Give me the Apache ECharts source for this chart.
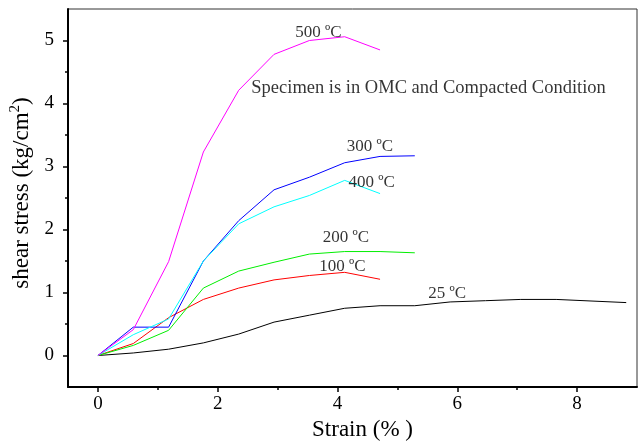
<!DOCTYPE html>
<html>
<head>
<meta charset="utf-8">
<script src="https://cdn.jsdelivr.net/npm/echarts@6/dist/echarts.min.js"></script>
<style>
  html, body { margin: 0; padding: 0; background: #fff; }
  #chart { width: 643px; height: 441px; }
</style>
</head>
<body>
<div id="chart"></div>
<script>
  // strain (%) readings
  var strain = [0, 0.59, 1.18, 1.76, 2.35, 2.94, 3.53, 4.12, 4.71, 5.29]
  var strain25 = [0, 0.59, 1.18, 1.76, 2.35, 2.94, 3.53, 4.12, 4.71, 5.29, 5.88, 6.47, 7.06, 7.65, 8.82]

  // shear stress (kg/cm2) per temperature
  var stress25 = [0, 0.04, 0.1, 0.2, 0.34, 0.53, 0.64, 0.75, 0.79, 0.79, 0.85, 0.87, 0.89, 0.89, 0.84]
  var stress100 = [0, 0.19, 0.6, 0.89, 1.07, 1.2, 1.27, 1.32, 1.21]
  var stress200 = [0, 0.16, 0.4, 1.07, 1.34, 1.48, 1.61, 1.65, 1.65, 1.63]
  var stress300 = [0, 0.45, 0.45, 1.5, 2.14, 2.63, 2.83, 3.06, 3.16, 3.17]
  var stress400 = [0, 0.33, 0.58, 1.5, 2.09, 2.36, 2.54, 2.78, 2.57]
  var stress500 = [0, 0.41, 1.49, 3.23, 4.21, 4.78, 5.0, 5.06, 4.85]

  var xMajor = [0, 2, 4, 6, 8]
  var xMinor = [1, 3, 5, 7]
  var yMajor = [0, 1, 2, 3, 4, 5]
  var yMinor = [0.5, 1.5, 2.5, 3.5, 4.5]

  // curve labels: [strain, stress, text]
  var curveLabels = [
    [3.68, 5.12, '500 ºC'],
    [4.54, 3.31, '300 ºC'],
    [4.57, 2.75, '400 ºC'],
    [4.14, 1.87, '200 ºC'],
    [4.08, 1.42, '100 ºC'],
    [5.83, 0.98, '25 ºC']
  ]
  var note = [[2.56, 4.25, 'Specimen is in OMC and Compacted Condition']]

  var serif = "'Liberation Serif', 'Times New Roman', serif"

  function pairs(xs, ys) {
    return ys.map(function (v, i) { return [xs[i], v] })
  }

  function curve(name, xs, ys, color) {
    return {
      name: name,
      type: 'line',
      data: pairs(xs, ys),
      symbol: 'none',
      lineStyle: { color: color, width: 1 },
      itemStyle: { color: color },
      z: 3
    }
  }

  var tickStyle = { color: '#000', width: 1.5 }

  var chart = echarts.init(document.getElementById('chart'))
  chart.setOption({
    animation: false,
    textStyle: { fontFamily: serif },
    grid: {
      left: 68, right: 6, top: 9, bottom: 54,
      outerBoundsMode: 'none',
      containLabel: false,
      show: true, borderColor: '#333', borderWidth: 1
    },
    xAxis: [{
      type: 'value', min: -0.5, max: 9,
      name: 'Strain (% )', nameLocation: 'middle', nameGap: 29,
      nameTextStyle: { fontSize: 23, color: '#000', fontFamily: serif, padding: [0, 0, 0, 20] },
      axisLine: { onZero: false, lineStyle: { color: '#000', width: 2 } },
      axisTick: { show: true, customValues: xMajor, length: 5, lineStyle: tickStyle },
      axisLabel: { customValues: xMajor, fontSize: 19, color: '#000', margin: 8, fontFamily: serif },
      splitLine: { show: false }
    }, {
      type: 'value', min: -0.5, max: 9, position: 'bottom',
      axisLine: { show: false, onZero: false },
      axisTick: { show: true, customValues: xMinor, length: 3, lineStyle: tickStyle },
      axisLabel: { show: false },
      splitLine: { show: false }
    }],
    yAxis: [{
      type: 'value', min: -0.5, max: 5.5,
      name: 'shear stress (kg/cm{sup|2})', nameLocation: 'middle', nameGap: 24,
      nameTextStyle: {
        fontSize: 23, color: '#000', fontFamily: serif, padding: [0, 0, 0, 10],
        rich: { sup: { fontSize: 15, color: '#000', fontFamily: serif, padding: [0, 0, 14, 0] } }
      },
      axisLine: { onZero: false, lineStyle: { color: '#000', width: 2 } },
      axisTick: { show: true, customValues: yMajor, length: 5, lineStyle: tickStyle },
      axisLabel: { customValues: yMajor, fontSize: 19, color: '#000', margin: 14, fontFamily: serif },
      splitLine: { show: false }
    }, {
      type: 'value', min: -0.5, max: 5.5, position: 'left',
      axisLine: { show: false, onZero: false },
      axisTick: { show: true, customValues: yMinor, length: 3, lineStyle: tickStyle },
      axisLabel: { show: false },
      splitLine: { show: false }
    }],
    series: [
      curve('25 ºC', strain25, stress25, '#000000'),
      curve('100 ºC', strain, stress100, '#ff0000'),
      curve('200 ºC', strain, stress200, '#00ee00'),
      curve('300 ºC', strain, stress300, '#0000ff'),
      curve('400 ºC', strain, stress400, '#00ffff'),
      curve('500 ºC', strain, stress500, '#ff00ff'),
      {
        type: 'scatter', data: curveLabels, symbolSize: 0, z: 5,
        label: {
          show: true, position: 'inside', fontSize: 17, color: '#000', fontFamily: serif,
          formatter: function (p) { return p.data[2] }
        }
      },
      {
        type: 'scatter', data: note, symbolSize: 0, z: 5,
        label: {
          show: true, position: 'right', distance: 0, fontSize: 18.5, color: '#000', fontFamily: serif,
          formatter: function (p) { return p.data[2] }
        }
      }
    ]
  })
</script>
</body>
</html>
